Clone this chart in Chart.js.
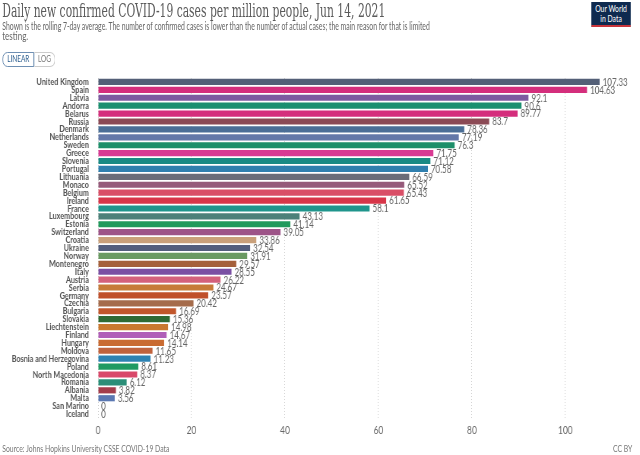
<!DOCTYPE html>
<html>
<head>
<meta charset="utf-8">
<script src="https://cdn.jsdelivr.net/npm/chart.js@4"></script>
<style>
  html,body{margin:0;padding:0;background:#fff;overflow:hidden;width:640px;height:455px;}
  #page{position:absolute;left:0;top:0;width:842px;height:455px;transform:scaleX(0.76);transform-origin:0 0;font-family:Lato,sans-serif;}
  #c{position:absolute;left:0;top:0;width:842px;height:455px;}
  .fit{position:absolute;white-space:nowrap;transform-origin:0 0;}
  #title{left:3px;top:-1px;font-family:'DejaVu Serif',serif;font-size:18px;line-height:24px;color:#5a5a5a;}
  #sub1{left:3px;top:21px;font-size:10.5px;line-height:10px;color:#666;}
  #sub2{left:3px;top:31px;font-size:10.5px;line-height:10px;color:#666;}
  #btns{position:absolute;left:3px;top:52px;height:14px;display:flex;font-size:8.5px;}
  #btns span{display:block;height:13px;line-height:13px;text-align:center;border:1px solid #ccc;}
  #lin{width:40px;border-color:#5a7fa8 !important;color:#2b5d8e;border-radius:7px 0 0 7px;}
  #log{width:27px;color:#777;border-left:none !important;border-radius:0 7px 7px 0;}
  #src{position:absolute;left:3px;top:443px;font-size:9px;color:#777;}
  #cc{position:absolute;right:10px;top:443px;font-size:9px;color:#777;}
  #logo{position:absolute;left:778px;top:2px;width:52px;background:#0e2a4f;border-bottom:2px solid #c8343a;color:#fff;font-size:9px;line-height:9.5px;text-align:center;padding-top:2px;box-sizing:content-box;height:21px;}
</style>
</head>
<body>
<div id="page">
  <canvas id="c" width="842" height="455"></canvas>
  <div id="title" class="fit">Daily new confirmed COVID-19 cases per million people, Jun 14, 2021</div>
  <div id="sub1" class="fit">Shown is the rolling 7-day average. The number of confirmed cases is lower than the number of actual cases; the main reason for that is limited</div>
  <div id="sub2" class="fit">testing.</div>
  <div id="btns"><span id="lin">LINEAR</span><span id="log">LOG</span></div>
  <div id="logo">Our World<br>in Data</div>
  <div id="src">Source: Johns Hopkins University CSSE COVID-19 Data</div>
  <div id="cc">CC BY</div>
</div>
<script>
const countries = ["United Kingdom","Spain","Latvia","Andorra","Belarus","Russia","Denmark","Netherlands","Sweden","Greece","Slovenia","Portugal","Lithuania","Monaco","Belgium","Ireland","France","Luxembourg","Estonia","Switzerland","Croatia","Ukraine","Norway","Montenegro","Italy","Austria","Serbia","Germany","Czechia","Bulgaria","Slovakia","Liechtenstein","Finland","Hungary","Moldova","Bosnia and Herzegovina","Poland","North Macedonia","Romania","Albania","Malta","San Marino","Iceland"];
const casesPerMillion = [107.33,104.63,92.1,90.6,89.77,83.7,78.36,77.19,76.3,71.75,71.12,70.58,66.59,65.52,65.43,61.65,58.1,43.13,41.14,39.05,33.86,32.54,31.91,29.57,28.55,26.22,24.67,23.57,20.42,16.69,15.36,14.98,14.67,14.14,11.65,11.23,8.61,8.37,6.12,3.82,3.56,0,0];
const barColors = ["#535f77","#d42e7c","#7d5aa0","#1a8f6f","#d42e7c","#8b4a55","#4b6e96","#6378a8","#1d8f6a","#d83a93","#198a84","#2f7fae","#6a6c78","#965a7a","#d94f67","#d73649","#1f958c","#4c8079","#219a5c","#9d5488","#c9a07a","#535e7d","#6a9a62","#a5603b","#7a4fa3","#d3617c","#c67b39","#c0502b","#a56c4c","#c1572c","#2e6a34","#c9782f","#b05eb8","#c96b32","#c0633d","#2e83b3","#1f9a62","#d9486a","#2b8e78","#a33d4b","#5a78b2","#888888","#888888"];
const xTicks = [0,20,40,60,80,100];

function fit(id, w){
  const el = document.getElementById(id);
  const nat = el.scrollWidth;
  el.style.transform = 'scaleX(' + (w/nat) + ')';
}
fit('title', 504);
fit('sub1', 563);

const valueLabels = {
  id:'valueLabels',
  afterDatasetsDraw(chart){
    const ctx = chart.ctx;
    const meta = chart.getDatasetMeta(0);
    ctx.save();
    ctx.font = '10.5px Lato';
    ctx.fillStyle = '#666';
    ctx.textBaseline = 'middle';
    ctx.textAlign = 'left';
    meta.data.forEach((bar,i)=>{
      ctx.fillText(String(casesPerMillion[i]), bar.x + 4, bar.y + 0.5);
    });
    ctx.restore();
  }
};

new Chart(document.getElementById('c'), {
  type:'bar',
  data:{
    labels:countries,
    datasets:[{data:casesPerMillion, backgroundColor:barColors, barPercentage:0.78, categoryPercentage:1, borderWidth:0}]
  },
  options:{
    indexAxis:'y',
    responsive:false,
    animation:false,
    layout:{padding:{top:78,right:12,bottom:7,left:0}},
    plugins:{legend:{display:false},tooltip:{enabled:false}},
    scales:{
      x:{
        min:0,max:114,
        afterBuildTicks(s){ s.ticks = xTicks.map(v=>({value:v})); },
        afterFit(s){ s.height = 30; },
        grid:{color:'#cfcfcf',lineWidth:1,drawTicks:false},
        border:{display:false,dash:[1,2]},
        ticks:{font:{family:'Lato',size:11},color:'#666',padding:6}
      },
      y:{
        afterFit(s){ s.width = 129; },
        grid:{display:false},
        border:{display:false},
        ticks:{font:{family:'Lato',size:9.5,weight:'bold'},color:'#555',padding:4,autoSkip:false}
      }
    }
  },
  plugins:[valueLabels]
});
</script>
</body>
</html>
